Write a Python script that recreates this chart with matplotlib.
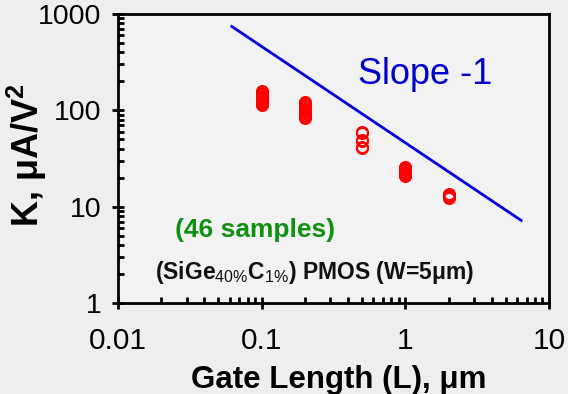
import matplotlib
matplotlib.use('Agg')
import matplotlib.pyplot as plt

plt.rcParams['font.family'] = ['Liberation Sans', 'DejaVu Sans']
plt.rcParams['mathtext.fontset'] = 'custom'
plt.rcParams['mathtext.rm'] = 'Liberation Sans'
plt.rcParams['mathtext.bf'] = 'Liberation Sans:bold'

# Gate lengths (um) and measured K (uA/V^2), 46 samples
len_01 = [0.1] * 12
k_01 = [113, 118, 122, 127, 132, 137, 142, 147, 152, 158, 120, 135]
len_02 = [0.2] * 12
k_02 = [83, 86, 90, 94, 98, 103, 108, 113, 118, 122, 88, 100]
len_05 = [0.5] * 6
k_05 = [41, 42, 48, 49, 58, 60]
len_1 = [1.0] * 9
k_1 = [21, 22, 23, 24, 25, 26, 22.5, 24.5, 21.5]
len_2 = [2.0] * 7
k_2 = [12.3, 12.6, 12.9, 13.2, 13.5, 12.8, 13.0]

# slope -1 reference line
slope_L = [0.062, 6.4]
slope_K = [742, 7.2]

x_ticks = [0.01, 0.1, 1, 10]
x_labels = ['0.01', '0.1', '1', '10']
y_ticks = [1, 10, 100, 1000]
y_labels = ['1', '10', '100', '1000']

fig = plt.figure(figsize=(5.68, 3.94), dpi=100, facecolor='#eeeeee')
ax = fig.add_axes([0.2077, 0.231, 0.7588, 0.7335])
ax.set_facecolor('#f2f2f2')

for xs, ks in [(len_01, k_01), (len_02, k_02), (len_05, k_05), (len_1, k_1), (len_2, k_2)]:
    ax.plot(xs, ks, 'o', mfc='none', mec='#ff0000', ms=8, mew=1.4, ls='none')

ax.plot(slope_L, slope_K, color='#0000dd', lw=2)

ax.set_xscale('log')
ax.set_yscale('log')
ax.set_xlim(0.01, 10)
ax.set_ylim(1, 1000)
ax.set_xticks(x_ticks)
ax.set_xticklabels(x_labels)
ax.set_yticks(y_ticks)
ax.set_yticklabels(y_labels)

for s in ax.spines.values():
    s.set_linewidth(2)
ax.tick_params(which='major', direction='inout', length=8, width=2, pad=8)
ax.tick_params(which='minor', direction='in', length=4, width=2)
ax.tick_params(axis='x', pad=13, labelsize=21.5)
ax.tick_params(axis='y', labelsize=20.5)

ax.set_xlabel('Gate Length (L), μm', fontsize=22.5, fontweight='bold')
ax.xaxis.set_label_coords(0.512, -0.215)
ax.set_ylabel('K, μA/V$^{\\mathbf{2}}$', fontsize=26, fontweight='bold')
ax.yaxis.set_label_coords(-0.16, 0.512)

ax.text(0.712, 0.789, 'Slope -1', transform=ax.transAxes, color='#0000cc',
        fontsize=26, ha='center', va='center')
ax.text(0.318, 0.253, '(46 samples)', transform=ax.transAxes, color='#109010',
        fontsize=19, fontweight='bold', ha='center', va='center')
ax.text(0.456, 0.107, '(SiGe$_{40\\%}$C$_{1\\%}$) PMOS (W=5μm)', transform=ax.transAxes,
        color='#111111', fontsize=16.5, fontweight='bold', ha='center', va='center')

fig.savefig('out.png', dpi=100, facecolor=fig.get_facecolor())
